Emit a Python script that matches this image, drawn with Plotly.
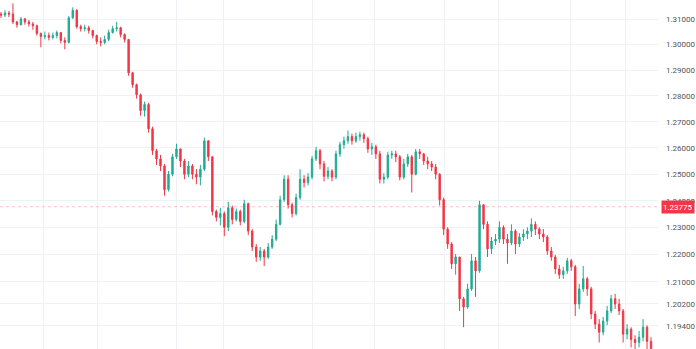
import math
import plotly.graph_objects as go

# ---- data (price values) ----
first_open = 1.3120
closes = [1.3116, 1.3124, 1.3120, 1.3089, 1.3078, 1.3101, 1.3089, 1.3081, 1.3074, 1.3043,
          1.3031, 1.3035, 1.3028, 1.3035, 1.3047, 1.3016, 1.3008, 1.3105, 1.3135, 1.3070,
          1.3062, 1.3066, 1.3055, 1.3035, 1.3012, 1.3008, 1.3020, 1.3047, 1.3062, 1.3066,
          1.3039, 1.3020, 1.2889, 1.2843, 1.2804, 1.2743, 1.2766, 1.2673, 1.2589, 1.2558,
          1.2531, 1.2442, 1.2500, 1.2566, 1.2596, 1.2550, 1.2500, 1.2531, 1.2500, 1.2489,
          1.2519, 1.2627, 1.2566, 1.2360, 1.2338, 1.2352, 1.2301, 1.2374, 1.2330, 1.2360,
          1.2323, 1.2389, 1.2287, 1.2228, 1.2191, 1.2213, 1.2191, 1.2228, 1.2257, 1.2312,
          1.2404, 1.2481, 1.2385, 1.2352, 1.2412, 1.2481, 1.2469, 1.2489, 1.2558, 1.2589,
          1.2539, 1.2492, 1.2512, 1.2489, 1.2577, 1.2612, 1.2627, 1.2643, 1.2627, 1.2643,
          1.2650, 1.2635, 1.2596, 1.2604, 1.2577, 1.2481, 1.2489, 1.2573, 1.2577, 1.2566,
          1.2489, 1.2539, 1.2566, 1.2500, 1.2585, 1.2577, 1.2550, 1.2539, 1.2527, 1.2500,
          1.2404, 1.2294, 1.2239, 1.2166, 1.2191, 1.2038, 1.2008, 1.2074, 1.2177, 1.2140,
          1.2385, 1.2312, 1.2221, 1.2250, 1.2257, 1.2301, 1.2257, 1.2243, 1.2287, 1.2239,
          1.2265, 1.2276, 1.2287, 1.2312, 1.2294, 1.2276, 1.2265, 1.2213, 1.2191, 1.2147,
          1.2126, 1.2140, 1.2177, 1.2155, 1.2019, 1.2074, 1.2111, 1.2074, 1.1983, 1.1946,
          1.1917, 1.1957, 1.1994, 1.2038, 1.2019, 1.1994, 1.1910, 1.1928, 1.1891, 1.1880,
          1.1899, 1.1935, 1.1884, 1.1858]
highs = [1.3128, 1.3135, 1.3132, 1.3162, 1.3093, 1.3108, 1.3105, 1.3097, 1.3089, 1.3078,
         1.3047, 1.3051, 1.3047, 1.3047, 1.3055, 1.3047, 1.3028, 1.3112, 1.3147, 1.3139,
         1.3078, 1.3078, 1.3074, 1.3058, 1.3039, 1.3028, 1.3035, 1.3058, 1.3074, 1.3089,
         1.3070, 1.3043, 1.3020, 1.2893, 1.2847, 1.2808, 1.2777, 1.2773, 1.2681, 1.2596,
         1.2573, 1.2539, 1.2512, 1.2577, 1.2616, 1.2596, 1.2558, 1.2550, 1.2539, 1.2519,
         1.2535, 1.2639, 1.2623, 1.2566, 1.2367, 1.2374, 1.2360, 1.2396, 1.2382, 1.2371,
         1.2367, 1.2404, 1.2393, 1.2294, 1.2239, 1.2228, 1.2221, 1.2243, 1.2272, 1.2330,
         1.2419, 1.2496, 1.2496, 1.2393, 1.2427, 1.2519, 1.2496, 1.2504, 1.2569, 1.2604,
         1.2596, 1.2550, 1.2527, 1.2519, 1.2589, 1.2623, 1.2643, 1.2666, 1.2654, 1.2658,
         1.2662, 1.2658, 1.2643, 1.2619, 1.2612, 1.2589, 1.2504, 1.2585, 1.2589, 1.2589,
         1.2573, 1.2558, 1.2577, 1.2573, 1.2596, 1.2596, 1.2581, 1.2566, 1.2550, 1.2539,
         1.2504, 1.2412, 1.2301, 1.2246, 1.2202, 1.2191, 1.2045, 1.2093, 1.2202, 1.2191,
         1.2400, 1.2382, 1.2323, 1.2265, 1.2276, 1.2323, 1.2308, 1.2276, 1.2312, 1.2294,
         1.2279, 1.2294, 1.2301, 1.2334, 1.2323, 1.2301, 1.2294, 1.2272, 1.2228, 1.2199,
         1.2162, 1.2155, 1.2188, 1.2184, 1.2162, 1.2093, 1.2158, 1.2118, 1.2082, 1.1994,
         1.1964, 1.1972, 1.2012, 1.2052, 1.2056, 1.2038, 1.2001, 1.1946, 1.1935, 1.1906,
         1.1921, 1.1964, 1.1942, 1.1899]
lows = [1.3105, 1.3108, 1.3108, 1.3081, 1.3066, 1.3074, 1.3078, 1.3070, 1.3058, 1.3035,
        1.2989, 1.3020, 1.3016, 1.3020, 1.3024, 1.3004, 1.2981, 1.3004, 1.3101, 1.3062,
        1.3051, 1.3051, 1.3043, 1.3024, 1.3001, 1.2993, 1.3001, 1.3012, 1.3043, 1.3051,
        1.3028, 1.3008, 1.2877, 1.2831, 1.2789, 1.2723, 1.2720, 1.2658, 1.2573, 1.2535,
        1.2512, 1.2419, 1.2435, 1.2492, 1.2558, 1.2527, 1.2481, 1.2489, 1.2481, 1.2462,
        1.2458, 1.2512, 1.2550, 1.2345, 1.2323, 1.2308, 1.2268, 1.2287, 1.2312, 1.2323,
        1.2308, 1.2316, 1.2272, 1.2213, 1.2173, 1.2177, 1.2158, 1.2184, 1.2221, 1.2250,
        1.2308, 1.2396, 1.2371, 1.2338, 1.2345, 1.2404, 1.2450, 1.2458, 1.2481, 1.2550,
        1.2519, 1.2473, 1.2481, 1.2473, 1.2481, 1.2566, 1.2596, 1.2616, 1.2612, 1.2619,
        1.2627, 1.2619, 1.2581, 1.2573, 1.2558, 1.2465, 1.2465, 1.2481, 1.2558, 1.2546,
        1.2477, 1.2481, 1.2527, 1.2431, 1.2496, 1.2558, 1.2535, 1.2519, 1.2512, 1.2481,
        1.2382, 1.2272, 1.2221, 1.2147, 1.2126, 1.1994, 1.1935, 1.2001, 1.2067, 1.2045,
        1.2133, 1.2294, 1.2191, 1.2202, 1.2235, 1.2243, 1.2239, 1.2166, 1.2235, 1.2202,
        1.2228, 1.2250, 1.2257, 1.2265, 1.2272, 1.2257, 1.2246, 1.2199, 1.2177, 1.2129,
        1.2111, 1.2111, 1.2129, 1.2140, 1.1975, 1.2001, 1.2063, 1.2049, 1.1964, 1.1928,
        1.1880, 1.1906, 1.1942, 1.1986, 1.2001, 1.1979, 1.1880, 1.1891, 1.1862, 1.1855,
        1.1862, 1.1884, 1.1855, 1.1833]
opens = [first_open] + closes[:-1]
bars = list(range(len(closes)))

last_price = 1.23775
tick_vals = [1.310, 1.300, 1.290, 1.280, 1.270, 1.260, 1.250, 1.240,
             1.230, 1.220, 1.210, 1.202, 1.194, 1.186]
tick_text = ["1.31000", "1.30000", "1.29000", "1.28000", "1.27000", "1.26000",
             "1.25000", "1.24000", "1.23000", "1.22000", "1.21000", "1.20200",
             "1.19400", "1.18600"]

UP = "#22ab94"
DOWN = "#f23645"

fig = go.Figure()
fig.add_trace(go.Candlestick(
    x=bars, open=opens, high=highs, low=lows, close=closes,
    increasing=dict(line=dict(color=UP, width=1), fillcolor=UP),
    decreasing=dict(line=dict(color=DOWN, width=1), fillcolor=DOWN),
    whiskerwidth=0, showlegend=False, hoverinfo="skip",
))
x_lo, x_hi = -0.25, len(closes) + 0.75
fig.add_trace(go.Scatter(
    x=[x_lo, x_hi], y=[last_price, last_price], mode="lines",
    line=dict(color="rgba(242,54,69,0.3)", width=1, dash="dot"),
    showlegend=False, hoverinfo="skip",
))

fig.update_layout(
    width=696, height=349,
    margin=dict(l=0, r=36, t=0, b=0),
    paper_bgcolor="white", plot_bgcolor="white",
    boxgap=0.5,
    xaxis=dict(
        range=[x_lo, x_hi], rangeslider=dict(visible=False),
        showticklabels=False, showline=False, zeroline=False, ticks="",
        tickmode="array",
        tickvals=[10.75, 24.25, 44, 55.75, 78, 93.75, 111.25, 124.75, 142.75, 156.5],
        showgrid=True, gridcolor="#f0f1f4", gridwidth=1,
    ),
    yaxis=dict(
        type="log", side="right",
        range=[math.log10(1.18566), math.log10(1.3176)],
        tickmode="array", tickvals=tick_vals, ticktext=tick_text,
        tickfont=dict(family="Roboto", size=8, color="#50535e"),
        ticks="", ticklabelstandoff=7,
        showgrid=True, gridcolor="#f0f1f4", gridwidth=1,
        zeroline=False, showline=False,
    ),
    annotations=[dict(
        x=1, xref="paper", xanchor="left", xshift=3,
        y=math.log10(last_price), yref="y", yanchor="middle",
        text="1.23775", showarrow=False, height=10,
        font=dict(family="Roboto", size=8, color="white"),
        bgcolor=DOWN, borderpad=1,
    )],
)

fig.write_html("out.html")
